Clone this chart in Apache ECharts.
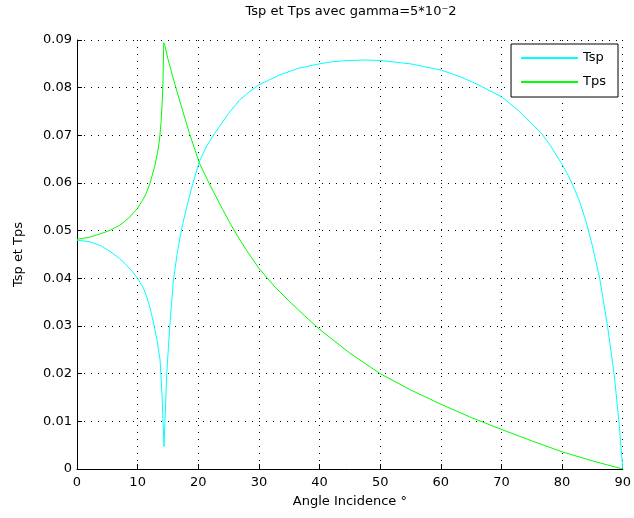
<!DOCTYPE html>
<html>
<head>
<meta charset="utf-8">
<script src="https://cdn.jsdelivr.net/npm/echarts@6/dist/echarts.min.js"></script>
<style>
html,body{margin:0;padding:0;background:#fff;}
#chart{width:634px;height:518px;}
</style>
</head>
<body>
<div id="chart"></div>
<script>
// Angles (degrees) and values
const tspAngle = [0, 2, 4, 5.5, 7, 8, 9, 10, 11, 11.5, 12, 12.6, 13.2, 13.7, 14.0, 14.2, 14.35, 14.5, 14.8, 15.3, 15.9, 16.5, 17, 17.45, 18.1, 19.1, 20.2, 21.4, 22.7, 25, 26.8, 28.5, 30, 33.3, 36.6, 40, 42.5, 45, 47.5, 50, 55, 60, 63, 66.2, 70, 72.7, 76.6, 78, 79.9, 81, 82, 83, 84, 85, 86.2, 87.5, 88.6, 89.4, 90];
const tspValue = [0.0480, 0.0477, 0.0468, 0.0456, 0.0442, 0.0430, 0.0416, 0.0400, 0.0378, 0.0361, 0.0340, 0.0308, 0.0270, 0.0229, 0.0160, 0.0096, 0.0047, 0.0100, 0.0200, 0.0300, 0.0396, 0.0450, 0.0487, 0.0515, 0.0550, 0.0599, 0.0646, 0.0678, 0.0704, 0.0746, 0.0774, 0.0792, 0.0806, 0.0826, 0.0841, 0.0850, 0.0855, 0.0857, 0.0858, 0.0857, 0.0850, 0.0837, 0.0824, 0.0806, 0.0781, 0.0753, 0.0704, 0.0680, 0.0641, 0.0616, 0.0589, 0.0557, 0.0517, 0.0468, 0.0400, 0.0299, 0.0197, 0.0096, 0.0];
const tpsAngle = [0, 2, 4, 5.5, 7, 8.5, 10, 11, 11.4, 12, 12.8, 13.3, 13.6, 13.85, 14.07, 14.2, 14.3, 14.5, 15, 15.8, 16.9, 18.55, 20.2, 21.8, 24, 25.4, 26.5, 28, 30, 32.5, 35, 37.5, 40, 45, 50, 55, 60, 65, 70, 75, 80, 85, 90];
const tpsValue = [0.0482, 0.0486, 0.0494, 0.0501, 0.0511, 0.0526, 0.0547, 0.0568, 0.0578, 0.0598, 0.0634, 0.0665, 0.0690, 0.0725, 0.0774, 0.0820, 0.0894, 0.0888, 0.0860, 0.0823, 0.0774, 0.0704, 0.0641, 0.0599, 0.0545, 0.0512, 0.0488, 0.0458, 0.0421, 0.0384, 0.0352, 0.0322, 0.0293, 0.0243, 0.0200, 0.0166, 0.0136, 0.0108, 0.0083, 0.0059, 0.0036, 0.0017, 0.0];
const seriesNames = ['Tsp', 'Tps'];
const titleText = 'Tsp et Tps avec gamma=5*10\u207B2';
const xName = 'Angle Incidence \u00B0';
const yName = 'Tsp et Tps';

const FONT = 'DejaVu Sans';
const chart = echarts.init(document.getElementById('chart'), null, {renderer: 'canvas'});
const pairs = (xs, ys) => xs.map((x, i) => [x, ys[i]]);

chart.setOption({
  backgroundColor: '#ffffff',
  animation: false,
  title: {
    text: titleText,
    left: 351, top: 5, padding: 0, textAlign: 'center',
    textStyle: {fontFamily: FONT, fontSize: 13, fontWeight: 'normal', color: '#000'}
  },
  grid: {left: 77, right: 9, top: 40, bottom: 49, containLabel: false},
  legend: {
    orient: 'vertical',
    right: 16, top: 44,
    padding: [7, 12, 8, 10],
    itemGap: 10,
    itemWidth: 57, itemHeight: 2,
    icon: 'rect',
    borderColor: '#000', borderWidth: 1,
    backgroundColor: '#fff',
    textStyle: {fontFamily: FONT, fontSize: 13, color: '#000', lineHeight: 14},
    data: seriesNames
  },
  xAxis: {
    type: 'value', min: 0, max: 90, interval: 10,
    name: xName, nameLocation: 'middle', nameGap: 26,
    nameTextStyle: {fontFamily: FONT, fontSize: 13, color: '#000'},
    axisLine: {show: true, onZero: false, lineStyle: {color: '#000', width: 1}},
    axisTick: {show: true, inside: true, length: 5, lineStyle: {color: '#000'}},
    axisLabel: {margin: 7, fontFamily: FONT, fontSize: 13, color: '#000'},
    splitLine: {show: true, lineStyle: {color: '#000', type: [1, 6], width: 1}}
  },
  yAxis: {
    type: 'value', min: 0, max: 0.09, interval: 0.01,
    name: yName, nameLocation: 'middle', nameGap: 52, nameRotate: 90,
    nameTextStyle: {fontFamily: FONT, fontSize: 13, color: '#000'},
    axisLine: {show: true, onZero: false, lineStyle: {color: '#000', width: 1}},
    axisTick: {show: true, inside: true, length: 5, lineStyle: {color: '#000'}},
    axisLabel: {margin: 5, fontFamily: FONT, fontSize: 13, color: '#000'},
    splitLine: {show: true, lineStyle: {color: '#000', type: [1, 6], width: 1}}
  },
  series: [
    {
      name: seriesNames[0], type: 'line', data: pairs(tspAngle, tspValue),
      showSymbol: false, symbol: 'none', smooth: false,
      lineStyle: {color: '#00ffff', width: 1}, itemStyle: {color: '#00ffff'}
    },
    {
      name: seriesNames[1], type: 'line', data: pairs(tpsAngle, tpsValue),
      showSymbol: false, symbol: 'none', smooth: false,
      lineStyle: {color: '#00ff00', width: 1}, itemStyle: {color: '#00ff00'}
    }
  ]
});
</script>
</body>
</html>
